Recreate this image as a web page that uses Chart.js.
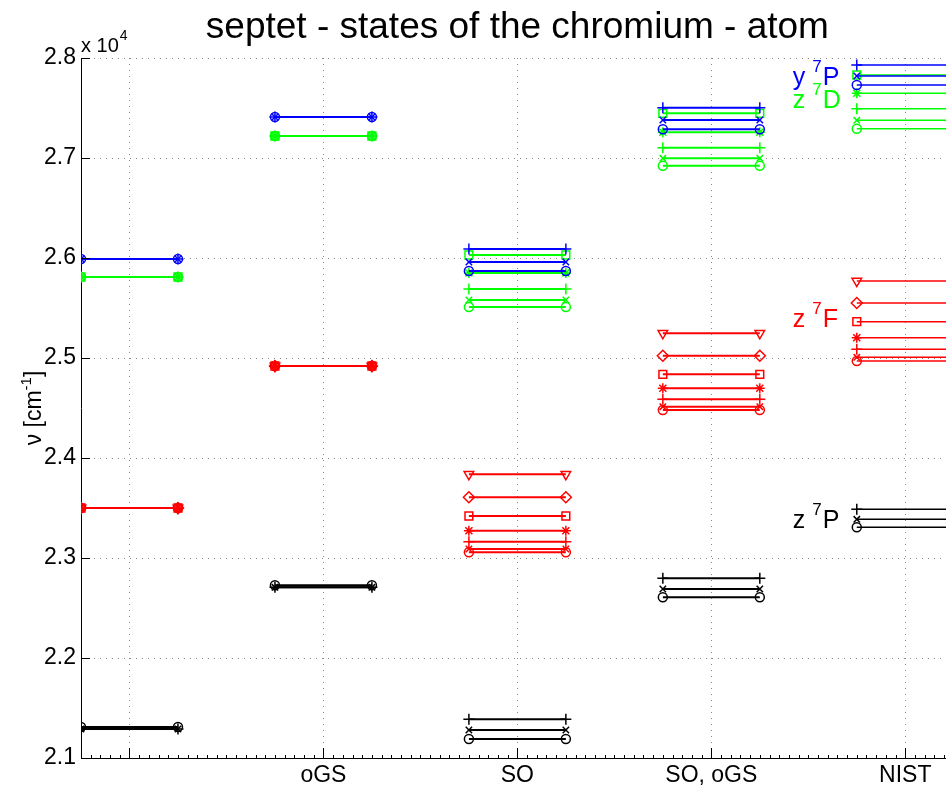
<!DOCTYPE html>
<html lang="en">
<head>
  <meta charset="UTF-8">
  <title>septet - states of the chromium - atom</title>
  <script src="https://cdn.jsdelivr.net/npm/chart.js"></script>
  <style>
    body {
      margin: 0;
      background: #ffffff;
      overflow: hidden;
    }
    #wrap {
      width: 946px;
      height: 785px;
    }
  </style>
</head>
<body>
  <div id="wrap">
    <canvas id="levels" width="946" height="785"></canvas>
  </div>

  <script>
    // columns of the diagram (first one has no label)
    const categories = ['', 'oGS', 'SO', 'SO, oGS', 'NIST'];
    const yTicks = [21000, 22000, 23000, 24000, 25000, 26000, 27000, 28000];

    // level energies per column, listed in marker order: o, x, +, *, s, d, v
    const y7P = [
      [25990, 25990, 25990],
      [27410, 27410, 27410],
      [25870, 25960, 26090],
      [27287, 27380, 27503],
      [27730, 27820, 27930]
    ];
    const z7D = [
      [25810, 25810, 25810, 25810, 25810],
      [27220, 27220, 27220, 27220, 27220],
      [25510, 25580, 25690, 25850, 26030],
      [26923, 26997, 27103, 27257, 27447],
      [27293, 27377, 27493, 27647, 27830]
    ];
    const z7F = [
      [23500, 23500, 23500, 23500, 23500, 23500, 23500],
      [24920, 24920, 24920, 24920, 24920, 24920, 24920],
      [23057, 23090, 23163, 23273, 23420, 23607, 23837],
      [24480, 24513, 24587, 24697, 24837, 25023, 25247],
      [24970, 25007, 25087, 25203, 25363, 25550, 25770]
    ];
    const z7P = [
      [21310, 21290, 21290],
      [22727, 22707, 22707],
      [21190, 21280, 21387],
      [22607, 22690, 22797],
      [23307, 23387, 23487]
    ];

    // term labels: [prefix, superscript, suffix, x (column units), y (energy)]
    const termLabels = [
      ['y ', '7', 'P', 3.67, 27730],
      ['z ', '7', 'D', 3.67, 27500],
      ['z ', '7', 'F', 3.67, 25310],
      ['z ', '7', 'P', 3.67, 23300]
    ];

    const FONT = '"Liberation Sans", Arial, Helvetica, sans-serif';
    const termColors = ['#0000ff', '#00ff00', '#ff0000', '#000000'];
    const markers = ['circle', 'crossRot', 'cross', 'star', 'rect', 'rectRot', 'triangle'];
    const markerSize = { circle: 4.5, crossRot: 4.5, cross: 5.5, star: 5, rect: 5.5, rectRot: 5.5, triangle: 5.5 };

    // one short horizontal segment per level and column
    const datasets = [];
    [y7P, z7D, z7F, z7P].forEach((term, t) => {
      term.forEach((col, c) => {
        col.forEach((v, j) => {
          const style = markers[j];
          datasets.push({
            data: [{ x: c, y: v }, { x: c + 0.5, y: v }],
            borderColor: termColors[t],
            borderWidth: c === 4 ? 1.4 : 2,
            pointStyle: style,
            pointRadius: markerSize[style],
            pointRotation: style === 'triangle' ? 180 : 0,
            pointBorderColor: termColors[t],
            pointBackgroundColor: 'rgba(0,0,0,0)',
            pointBorderWidth: 1.5,
            fill: false,
            tension: 0
          });
        });
      });
    });

    // titles, exponent, term names, inward ticks
    const decorations = {
      id: 'decorations',
      afterDraw(chart) {
        const { ctx, chartArea, scales } = chart;
        const xs = scales.x, ys = scales.y;
        ctx.save();

        // inward major ticks
        ctx.strokeStyle = '#000';
        ctx.lineWidth = 1;
        ctx.beginPath();
        yTicks.forEach(v => {
          const py = Math.round(ys.getPixelForValue(v)) + 0.5;
          ctx.moveTo(chartArea.left, py);
          ctx.lineTo(chartArea.left + 9, py);
        });
        categories.forEach((_, i) => {
          const px = Math.round(xs.getPixelForValue(i + 0.25)) + 0.5;
          ctx.moveTo(px, chartArea.bottom);
          ctx.lineTo(px, chartArea.bottom - 10);
        });
        // minor ticks along the bottom
        for (let m = 0.05; m < xs.max; m += 0.05) {
          const px = Math.round(xs.getPixelForValue(m)) + 0.5;
          ctx.moveTo(px, chartArea.bottom);
          ctx.lineTo(px, chartArea.bottom - 3);
        }
        ctx.stroke();

        ctx.fillStyle = '#000';
        ctx.textBaseline = 'alphabetic';

        // title, centred on the whole axes
        ctx.font = '37px ' + FONT;
        ctx.textAlign = 'center';
        const mid = (chartArea.left + xs.getPixelForValue(4.5)) / 2;
        ctx.fillText('septet - states of the chromium - atom', mid, 38);

        // exponent label
        ctx.textAlign = 'left';
        ctx.font = '20px ' + FONT;
        ctx.fillText('x 10', chartArea.left, 52);
        const w10 = ctx.measureText('x 10').width;
        ctx.font = '14px ' + FONT;
        ctx.fillText('4', chartArea.left + w10 + 1, 40);

        // y axis label
        ctx.save();
        ctx.translate(33, (chartArea.top + chartArea.bottom) / 2);
        ctx.rotate(-Math.PI / 2);
        const a = 'ν [cm', b = '-1', c = ']';
        ctx.font = '23px ' + FONT;
        const wa = ctx.measureText(a).width, wc = ctx.measureText(c).width;
        ctx.font = '15px ' + FONT;
        const wb = ctx.measureText(b).width;
        const x0 = -(wa + wb + wc) / 2;
        ctx.font = '23px ' + FONT;
        ctx.fillText(a, x0, 8);
        ctx.font = '15px ' + FONT;
        ctx.fillText(b, x0 + wa, -2);
        ctx.font = '23px ' + FONT;
        ctx.fillText(c, x0 + wa + wb, 8);
        ctx.restore();

        // term names
        termLabels.forEach((lab, i) => {
          ctx.fillStyle = termColors[i];
          let px = xs.getPixelForValue(lab[3]);
          const py = ys.getPixelForValue(lab[4]);
          ctx.font = '25px ' + FONT;
          ctx.fillText(lab[0], px, py);
          px += ctx.measureText(lab[0]).width;
          ctx.font = '17px ' + FONT;
          ctx.fillText(lab[1], px, py - 13);
          px += ctx.measureText(lab[1]).width + 1;
          ctx.font = '25px ' + FONT;
          ctx.fillText(lab[2], px, py);
        });

        ctx.restore();
      }
    };

    new Chart(document.getElementById('levels'), {
      type: 'line',
      data: { datasets: datasets },
      options: {
        responsive: false,
        animation: false,
        events: [],
        layout: {
          autoPadding: false,
          padding: { top: 58, left: 0, right: 0, bottom: 0 }
        },
        plugins: {
          legend: { display: false },
          tooltip: { enabled: false },
          title: { display: false }
        },
        scales: {
          x: {
            type: 'linear',
            min: 0,
            max: 4.46,
            afterFit: s => {
              s.height = 27;
              s.paddingLeft = 0;
              s.paddingRight = 0;
            },
            afterBuildTicks: s => {
              s.ticks = categories.map((_, i) => ({ value: i + 0.25 }));
            },
            ticks: {
              autoSkip: false,
              maxRotation: 0,
              padding: 4,
              color: '#000',
              font: { family: FONT, size: 23 },
              callback: v => categories[Math.round(v - 0.25)]
            },
            grid: { color: '#8a8a8a', lineWidth: 1, drawTicks: false },
            border: { display: true, color: '#000', width: 1, dash: [1, 5] }
          },
          y: {
            min: 21000,
            max: 28000,
            afterFit: s => { s.width = 81; },
            afterBuildTicks: s => {
              s.ticks = yTicks.map(v => ({ value: v }));
            },
            ticks: {
              padding: 5,
              color: '#000',
              font: { family: FONT, size: 23 },
              callback: v => (v / 10000).toFixed(1)
            },
            grid: { color: '#8a8a8a', lineWidth: 1, drawTicks: false },
            border: { display: true, color: '#000', width: 1, dash: [1, 5] }
          }
        }
      },
      plugins: [decorations]
    });
  </script>
</body>
</html>
